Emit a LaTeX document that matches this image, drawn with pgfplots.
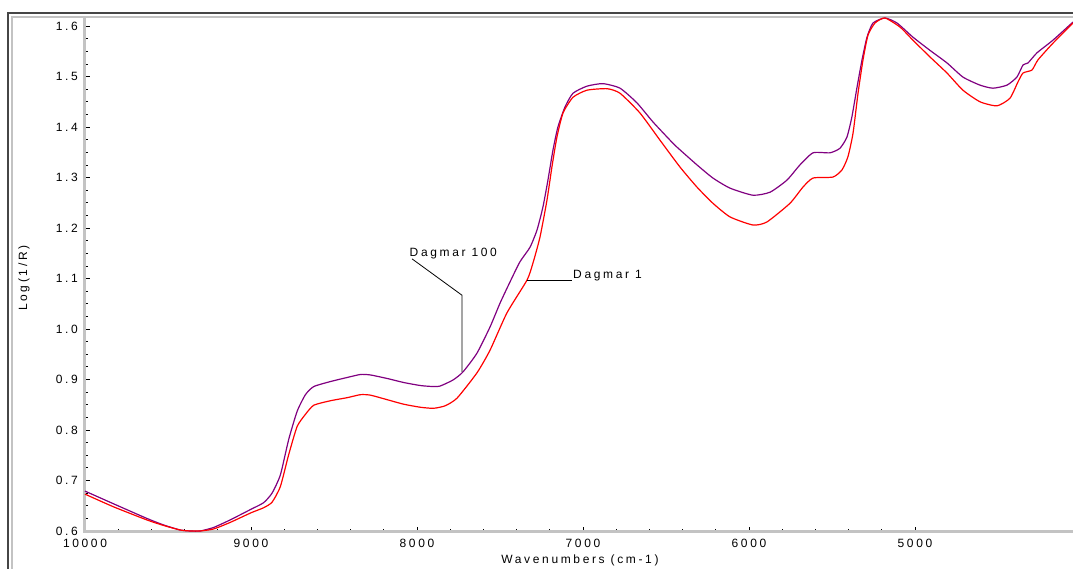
\documentclass[border=0pt]{standalone}
\usepackage{fontspec}
\setmainfont{Liberation Sans}[LetterSpace=22]
\usepackage{pgfplots}
\pgfplotsset{compat=1.18}
\usepackage{pgfplotstable}
\definecolor{dpurple}{RGB}{128,0,128}
\definecolor{axgray}{RGB}{195,195,195}
\definecolor{framedark}{RGB}{70,70,70}

\pgfplotstableread{
x y
10000 0.679
9829 0.654
9628 0.625
9527 0.612
9427 0.602
9366 0.600
9306 0.600
9225 0.607
9125 0.622
9000 0.643
8924 0.656
8873 0.675
8823 0.711
8773 0.781
8722 0.837
8672 0.870
8622 0.886
8521 0.896
8421 0.904
8340 0.910
8280 0.909
8179 0.902
8079 0.894
7978 0.888
7900 0.886
7861 0.887
7783 0.899
7723 0.915
7639 0.952
7560 1.004
7500 1.051
7440 1.093
7380 1.133
7319 1.162
7277 1.196
7241 1.242
7211 1.295
7181 1.354
7151 1.400
7108 1.440
7060 1.467
6976 1.481
6880 1.486
6777 1.477
6675 1.448
6578 1.410
6458 1.368
6416 1.355
6313 1.325
6217 1.299
6114 1.279
5976 1.265
5873 1.271
5771 1.295
5693 1.325
5614 1.349
5512 1.349
5452 1.358
5410 1.380
5380 1.420
5349 1.479
5319 1.533
5289 1.578
5253 1.606
5181 1.616
5108 1.606
5012 1.578
4910 1.552
4807 1.527
4711 1.499
4608 1.483
4530 1.477
4446 1.483
4386 1.499
4349 1.523
4319 1.527
4265 1.547
4169 1.572
4048 1.608
}\purpledata

\pgfplotstableread{
x y
10000 0.673
9829 0.648
9628 0.622
9527 0.611
9427 0.602
9366 0.600
9306 0.600
9225 0.604
9125 0.617
9000 0.636
8924 0.646
8873 0.657
8823 0.688
8773 0.751
8722 0.807
8672 0.831
8622 0.849
8521 0.858
8421 0.864
8340 0.870
8280 0.869
8179 0.860
8079 0.851
7978 0.845
7900 0.843
7830 0.848
7759 0.863
7639 0.913
7560 0.958
7458 1.032
7337 1.097
7301 1.131
7259 1.182
7217 1.255
7187 1.321
7157 1.380
7120 1.428
7060 1.459
6976 1.473
6855 1.476
6777 1.467
6657 1.428
6536 1.374
6416 1.321
6313 1.281
6217 1.249
6114 1.222
5976 1.206
5892 1.212
5753 1.249
5675 1.281
5614 1.299
5494 1.301
5440 1.315
5404 1.341
5373 1.388
5343 1.467
5313 1.533
5283 1.582
5241 1.606
5181 1.616
5090 1.598
5012 1.572
4910 1.539
4807 1.507
4711 1.473
4608 1.450
4506 1.442
4428 1.457
4380 1.489
4349 1.507
4295 1.513
4259 1.533
4169 1.566
4048 1.606
}\reddata

\begin{document}
\fontsize{12pt}{14pt}\selectfont
\begin{tikzpicture}
\path[use as bounding box] (0pt,0pt) rectangle (1073pt,569pt);
\draw[framedark, line width=2pt] (8pt,0pt) -- (8pt,556pt) -- (1073pt,556pt);
\draw[axgray, line width=2pt] (12pt,0pt) -- (12pt,552pt) -- (1073pt,552pt);
\begin{axis}[
  at={(85pt,37pt)}, anchor=south west,
  scale only axis, width=988pt, height=515pt,
  x dir=reverse,
  xmin=4048, xmax=10000, ymin=0.598, ymax=1.618,
  axis line style={draw=none},
  xtick={5000,6000,7000,8000,9000,10000},
  ytick={0.6,0.7,0.8,0.9,1.0,1.1,1.2,1.3,1.4,1.5,1.6},
  scaled x ticks=false, scaled y ticks=false,
  minor x tick num=4, minor y tick num=3,
  xtick pos=bottom, ytick pos=left,
  tick align=inside,
  major tick length=5pt, minor tick length=3pt,
  tick style={black, line width=0.8pt},
  /pgf/number format/assume math mode=true,
  /pgf/number format/1000 sep={},
  yticklabel style={/pgf/number format/fixed, /pgf/number format/precision=1, /pgf/number format/fixed zerofill, xshift=-3pt},
  xticklabel style={yshift=-3pt},
  xlabel={Wavenumbers (cm-1)},
  ylabel={Log(1/R)},
  xlabel style={at={(axis description cs:0.501,-0.056)}, anchor=center},
  ylabel style={at={(axis description cs:-0.0617,0.493)}, anchor=center},
  clip=false,
]
\draw[axgray, line width=3pt] (axis description cs:0,1) -- (axis description cs:0,0) -- (axis description cs:1,0);
\addplot[dpurple, line width=1.2pt, smooth, tension=0.35] table {\purpledata};
\addplot[red, line width=1.2pt, smooth, tension=0.35] table {\reddata};
\draw[black, line width=0.8pt] (axis cs:8030,1.139) -- (axis cs:7729,1.067) -- (axis cs:7729,0.915);
\node[anchor=west, inner sep=0pt] at (axis cs:8045,1.150) {Dagmar 100};
\draw[black, line width=0.8pt] (axis cs:7337,1.097) -- (axis cs:7066,1.097);
\node[anchor=west, inner sep=0pt] at (axis cs:7060,1.105) {Dagmar 1};
\end{axis}
\end{tikzpicture}
\end{document}
